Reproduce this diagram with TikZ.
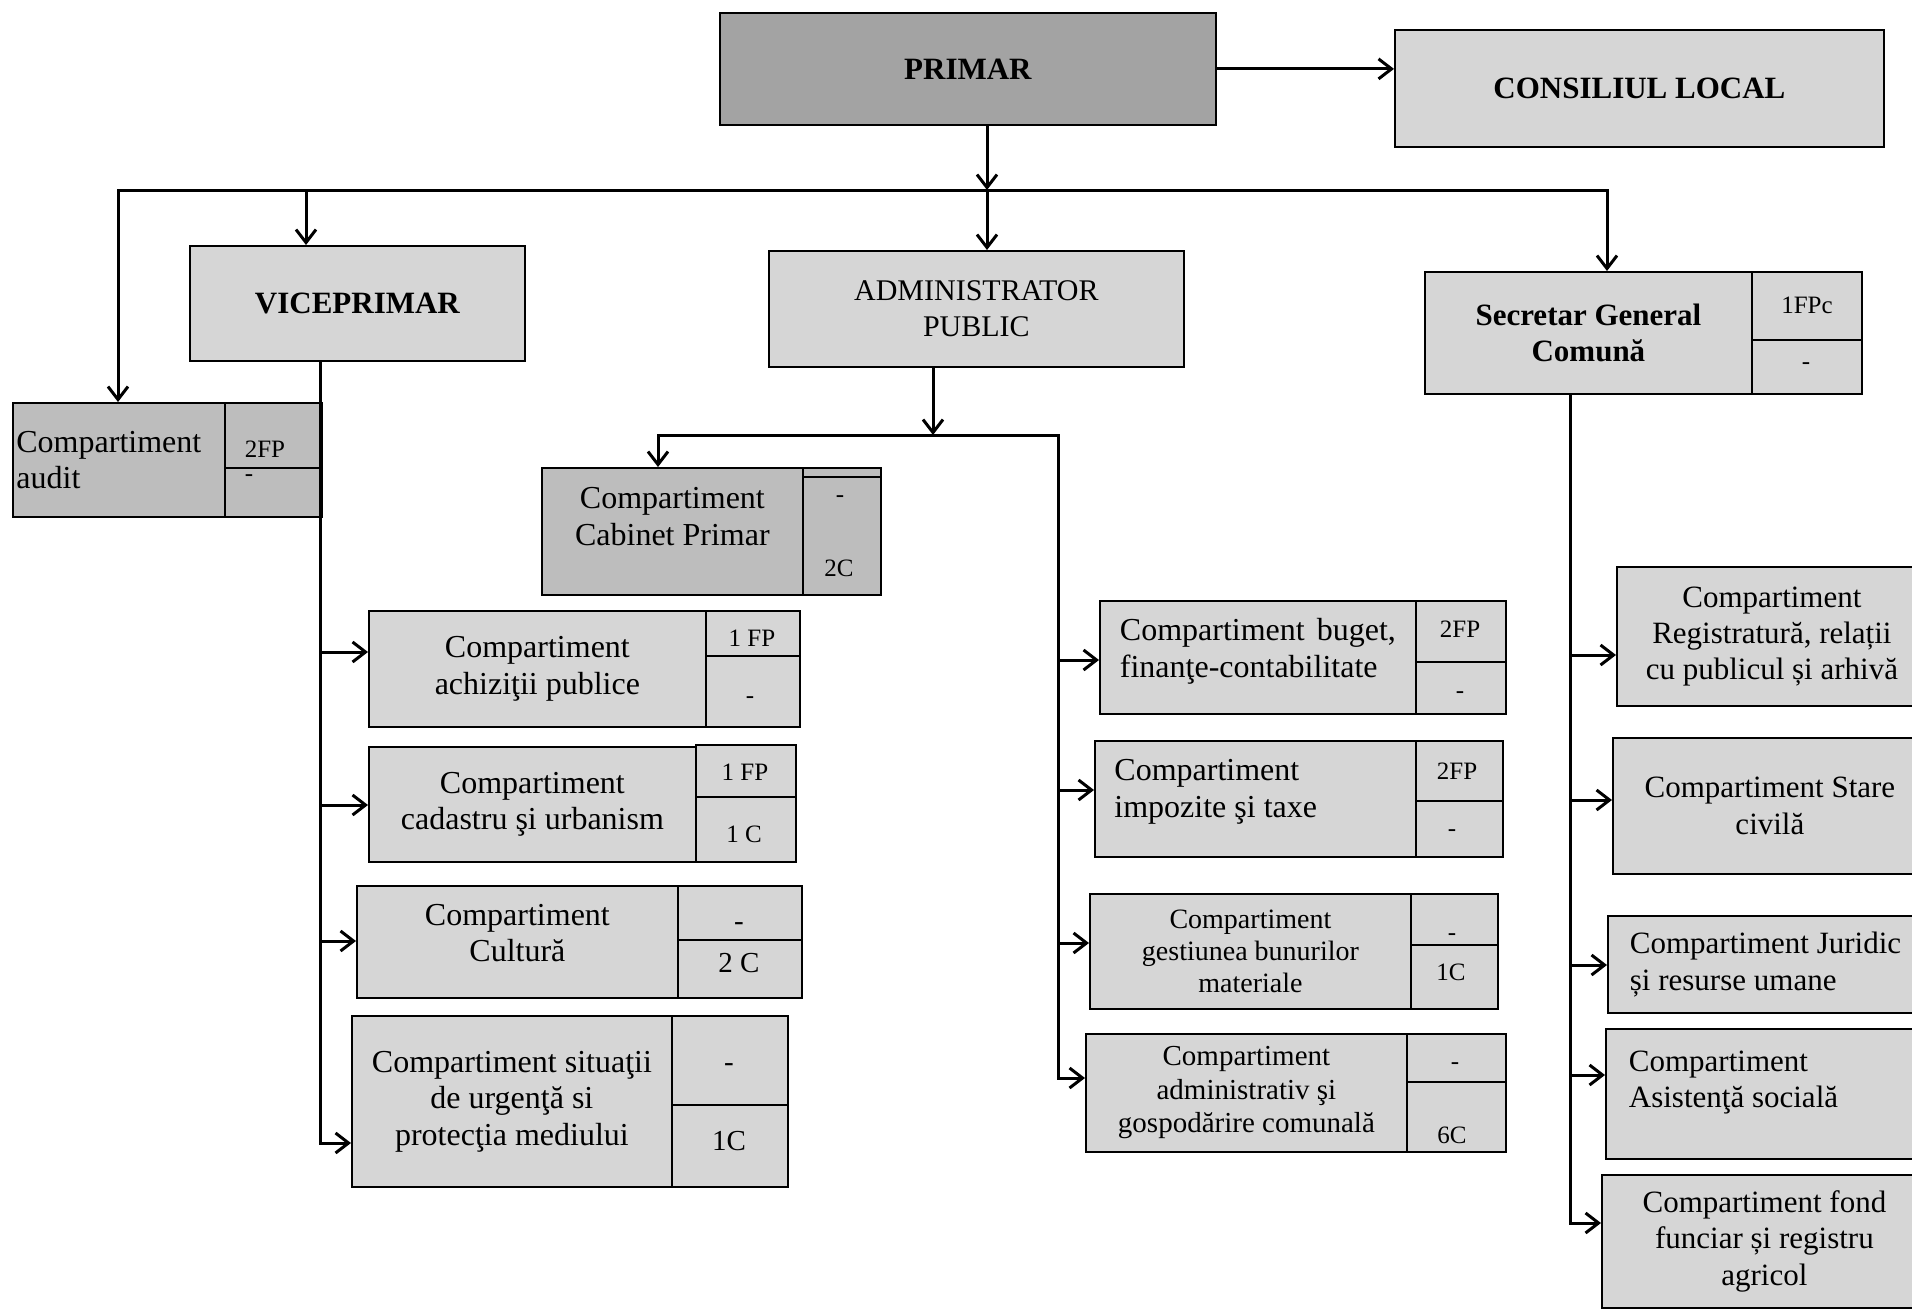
\documentclass[tikz,border=0pt]{standalone}
\usepackage{fontspec}
\setmainfont{Liberation Serif}
\usetikzlibrary{arrows.meta}
\definecolor{boxlight}{gray}{0.84}
\definecolor{boxmid}{gray}{0.74}
\definecolor{boxdark}{gray}{0.64}
\tikzset{
  box/.style={draw=black, line width=1.8pt, anchor=north west, inner sep=0pt,
    align=center, fill=boxlight, font=\fontsize{32}{36.5}\selectfont},
  ttl/.style={font=\bfseries\fontsize{31}{36}\selectfont},
  lab/.style={inner sep=0pt, font=\fontsize{25}{30}\selectfont},
  labbig/.style={inner sep=0pt, font=\fontsize{29}{30}\selectfont},
  split/.style={line width=2.6pt},
  conn/.style={line width=3pt, line cap=rect},
  arr/.style={conn, -{Straight Barb[length=13pt,width=20pt,line width=3pt]}}
}
\begin{document}
\begin{tikzpicture}[x=1pt,y=-1pt]
\useasboundingbox (0,0) rectangle (1912,1311);

% ---- top level
\node[box, fill=boxdark, ttl, minimum width=496pt, minimum height=112pt] (pri) at (719,12) {PRIMAR};
\node[box, ttl, minimum width=489pt, minimum height=117pt] (con) at (1394,29) {CONSILIUL LOCAL};
\node[box, ttl, minimum width=335pt, minimum height=115pt] (vic) at (189,245) {VICEPRIMAR};
\node[box, font=\fontsize{30}{36}\selectfont, minimum width=415pt, minimum height=116pt] (adm) at (768,250) {ADMINISTRATOR\\PUBLIC};
\node[box, ttl, minimum width=327pt, minimum height=122pt] (sec) at (1424,271) {Secretar General\\Comună};
\node[box, minimum width=110pt, minimum height=122pt] (secc) at (1751,271) {};
\draw[split] (secc.west |- 0,340) -- (secc.east |- 0,340);
\node[lab] (sect1) at (1807,305) {1FPc};
\node[lab] (sect2) at (1806,366) {-};

% ---- audit
\node[box, fill=boxmid, align=flush left, text width=205pt, minimum width=212pt, minimum height=114pt] (aud) at (12,402) {Compartiment\\audit};
\node[box, fill=boxmid, minimum width=97pt, minimum height=114pt] (audc) at (224,402) {};
\draw[split] (audc.west |- 0,468) -- (audc.east |- 0,468);
\node[lab] (audt1) at (265,449) {2FP};
\node[lab] (audt2) at (249,478) {-};

% ---- cabinet primar
\node[box, fill=boxmid, text depth=30pt, minimum width=261pt, minimum height=127pt] (cab) at (541,467) {Compartiment\\Cabinet Primar};
\node[box, fill=boxmid, minimum width=78pt, minimum height=127pt] (cabc) at (802,467) {};
\draw[split] (cabc.west |- 0,477) -- (cabc.east |- 0,477);
\node[lab] (cabt1) at (840,499) {-};
\node[lab] (cabt2) at (839,568) {2C};

% ---- viceprimar children
\node[box, minimum width=337pt, minimum height=116pt] (ach) at (368,610) {Compartiment\\achiziţii publice};
\node[box, minimum width=94pt, minimum height=116pt] (achc) at (705,610) {};
\draw[split] (achc.west |- 0,656) -- (achc.east |- 0,656);
\node[lab] (acht1) at (752,638) {1 FP};
\node[lab] (acht2) at (750,700) {-};

\node[box, minimum width=327pt, minimum height=115pt] (cad) at (368,746) {Compartiment\\cadastru şi urbanism};
\node[box, minimum width=100pt, minimum height=117pt] (cadc) at (695,744) {};
\draw[split] (cadc.west |- 0,797) -- (cadc.east |- 0,797);
\node[lab] (cadt1) at (745,772) {1 FP};
\node[lab] (cadt2) at (744,834) {1 C};

\node[box, text depth=18pt, minimum width=321pt, minimum height=112pt] (cul) at (356,885) {Compartiment\\Cultură};
\node[box, minimum width=124pt, minimum height=112pt] (culc) at (677,885) {};
\draw[split] (culc.west |- 0,940) -- (culc.east |- 0,940);
\node[labbig] (cult1) at (739,927) {-};
\node[labbig] (cult2) at (739,963) {2 C};

\node[box, minimum width=320pt, minimum height=171pt] (sit) at (351,1015) {Compartiment situaţii\\de urgenţă si\\protecţia mediului};
\node[box, minimum width=116pt, minimum height=171pt] (sitc) at (671,1015) {};
\draw[split] (sitc.west |- 0,1105) -- (sitc.east |- 0,1105);
\node[labbig] (sitt1) at (729,1068) {-};
\node[labbig] (sitt2) at (729,1141) {1C};

% ---- administrator children
\node[box, align=flush left, text width=276pt, text depth=56pt, minimum width=316pt, minimum height=113pt] (bug) at (1099,600) {Compartiment\hfill buget,\\finanţe-contabilitate};
\node[box, minimum width=90pt, minimum height=113pt] (bugc) at (1415,600) {};
\draw[split] (bugc.west |- 0,662) -- (bugc.east |- 0,662);
\node[lab] (bugt1) at (1460,629) {2FP};
\node[lab] (bugt2) at (1460,695) {-};

\node[box, align=flush left, text width=282pt, text depth=58pt, minimum width=321pt, minimum height=116pt] (imp) at (1094,740) {Compartiment\\impozite şi taxe};
\node[box, minimum width=87pt, minimum height=116pt] (impc) at (1415,740) {};
\draw[split] (impc.west |- 0,801) -- (impc.east |- 0,801);
\node[lab] (impt1) at (1457,771) {2FP};
\node[lab] (impt2) at (1452,833) {-};

\node[box, font=\fontsize{28}{32}\selectfont, minimum width=321pt, minimum height=115pt] (ges) at (1089,893) {Compartiment\\gestiunea bunurilor\\materiale};
\node[box, minimum width=87pt, minimum height=115pt] (gesc) at (1410,893) {};
\draw[split] (gesc.west |- 0,945) -- (gesc.east |- 0,945);
\node[lab] (gest1) at (1452,937) {-};
\node[lab] (gest2) at (1451,972) {1C};

\node[box, font=\fontsize{29}{33.5}\selectfont, minimum width=321pt, minimum height=118pt] (gos) at (1085,1033) {Compartiment\\administrativ şi\\gospodărire comunală};
\node[box, minimum width=99pt, minimum height=118pt] (gosc) at (1406,1033) {};
\draw[split] (gosc.west |- 0,1082) -- (gosc.east |- 0,1082);
\node[lab] (gost1) at (1455,1066) {-};
\node[lab] (gost2) at (1452,1135) {6C};

% ---- secretar children (cut by the right edge)
\node[box, font=\fontsize{31}{36}\selectfont, minimum width=310pt, minimum height=139pt] (reg) at (1616,566) {Compartiment\\Registratură, relații\\cu publicul și arhivă};
\node[box, font=\fontsize{31}{36.5}\selectfont, minimum width=314pt, minimum height=136pt] (sta) at (1612,737) {Compartiment Stare\\civilă};
\node[box, font=\fontsize{31}{36.5}\selectfont, align=flush left, text width=275pt, minimum width=319pt, minimum height=97pt] (jur) at (1607,915) {Compartiment Juridic\\și resurse umane};
\node[box, font=\fontsize{31}{36.5}\selectfont, align=flush left, text width=275pt, text depth=66pt, minimum width=321pt, minimum height=130pt] (asi) at (1605,1028) {Compartiment\\Asistenţă socială};
\node[box, font=\fontsize{31}{36.5}\selectfont, minimum width=325pt, minimum height=133pt] (fon) at (1601,1174) {Compartiment fond\\funciar și registru\\agricol};

% ---- connectors
\coordinate (bus0) at (987,190);
\coordinate (busL) at (118,190);
\coordinate (busV) at (306,190);
\coordinate (busR) at (1607,190);
\draw[arr] (pri.east) -- (pri.east -| con.west);
\draw[arr] (pri.south -| bus0) -- (bus0);
\draw[arr] (bus0) -- (busL) -- (busL |- aud.north);
\draw[arr] (bus0) -- (busR) -- (busR |- sec.north);
\draw[arr] (busV) -- (busV |- vic.north);
\draw[arr] (bus0) -- (bus0 |- adm.north);

% viceprimar stem
\coordinate (v1) at (320,652);
\coordinate (v2) at (320,805);
\coordinate (v3) at (320,941);
\coordinate (v4) at (320,1143);
\draw[arr] (vic.south -| v4) -- (v4) -- (v4 -| sit.west);
\draw[arr] (v1) -- (v1 -| ach.west);
\draw[arr] (v2) -- (v2 -| cad.west);
\draw[arr] (v3) -- (v3 -| cul.west);

% administrator stem
\coordinate (as) at (933,435);
\coordinate (aL) at (658,435);
\coordinate (aR) at (1058,435);
\draw[arr] (adm.south -| as) -- (as);
\draw[arr] (aR) -- (aL) -- (aL |- cab.north);
\coordinate (a1) at (1058,660);
\coordinate (a2) at (1058,790);
\coordinate (a3) at (1058,943);
\coordinate (a4) at (1058,1078);
\draw[arr] (aR) -- (a4) -- (a4 -| gos.west);
\draw[arr] (a1) -- (a1 -| bug.west);
\draw[arr] (a2) -- (a2 -| imp.west);
\draw[arr] (a3) -- (a3 -| ges.west);

% secretar stem
\coordinate (s1) at (1570,655);
\coordinate (s2) at (1570,800);
\coordinate (s3) at (1570,965);
\coordinate (s4) at (1570,1075);
\coordinate (s5) at (1570,1223);
\draw[arr] (sec.south -| s5) -- (s5) -- (s5 -| fon.west);
\draw[arr] (s1) -- (s1 -| reg.west);
\draw[arr] (s2) -- (s2 -| sta.west);
\draw[arr] (s3) -- (s3 -| jur.west);
\draw[arr] (s4) -- (s4 -| asi.west);
\end{tikzpicture}
\end{document}
